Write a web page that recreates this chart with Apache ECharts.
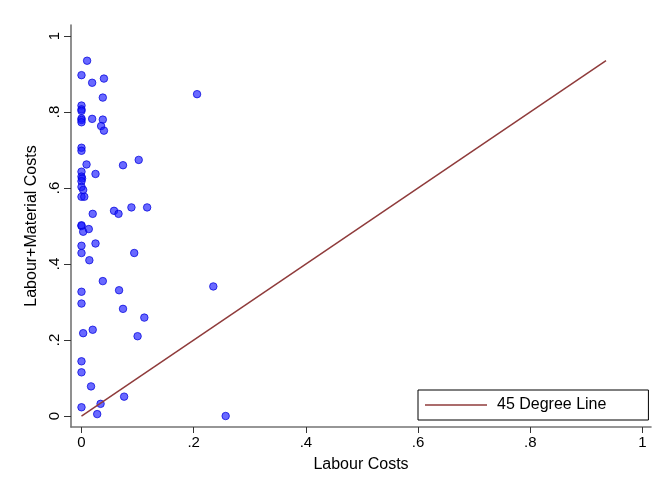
<!DOCTYPE html>
<html><head><meta charset="utf-8">
<script src="https://cdn.jsdelivr.net/npm/echarts@6/dist/echarts.min.js"></script>
<style>html,body{margin:0;padding:0;background:#fff}#c{width:667px;height:489px}</style>
</head><body><div id="c"></div>
<script>
const labourCosts = [0.010,0,0.019,0.040,0.038,0.206,0,0,0,0,0,0,0.019,0.038,0.035,0.040,0,0,0.009,0.074,0.102,0,0.025,0,0.001,0,0,0.003,0,0.005,0.020,0.058,0.066,0.089,0.117,0,0,0.003,0.013,0,0.025,0,0.094,0.014,0.038,0,0.067,0,0.074,0.235,0.112,0.003,0.020,0.100,0,0,0.017,0.076,0.034,0,0.028,0.257];
const labourMaterialCosts = [0.935,0.897,0.877,0.888,0.838,0.847,0.817,0.807,0.803,0.783,0.779,0.773,0.782,0.780,0.763,0.751,0.706,0.698,0.662,0.660,0.674,0.643,0.637,0.630,0.625,0.618,0.603,0.595,0.577,0.577,0.532,0.540,0.532,0.549,0.549,0.500,0.502,0.485,0.492,0.448,0.454,0.429,0.429,0.410,0.355,0.327,0.331,0.296,0.282,0.341,0.259,0.218,0.227,0.210,0.144,0.115,0.078,0.051,0.032,0.023,0.005,0.000];
const lineX = [0, 0.935];
const lineY = [0, 0.935];
const tickValues = [0, 0.2, 0.4, 0.6, 0.8, 1];
const fmt = v => v === 0 ? '0' : (v === 1 ? '1' : String(v).replace(/^0/, ''));
const font = 'Liberation Sans, Arial, sans-serif';
const chart = echarts.init(document.getElementById('c'));
chart.setOption({
  animation: false,
  backgroundColor: '#fff',
  grid: {left: 71, right: 16, top: 25, bottom: 62, containLabel: false},
  legend: {
    data: [{name: '45 Degree Line', icon: 'rect'}],
    left: 418, top: 390,
    orient: 'horizontal',
    itemWidth: 62, itemHeight: 1.5,
    padding: [7, 42, 7, 7],
    borderColor: '#000', borderWidth: 1, borderRadius: 0,
    textStyle: {fontFamily: font, fontSize: 16, color: '#000', padding: [0, 0, 0, 5]}
  },
  xAxis: {
    type: 'value', min: -0.0187, max: 1.0152,
    name: 'Labour Costs', nameLocation: 'middle', nameGap: 30,
    nameTextStyle: {fontFamily: font, fontSize: 16, color: '#000'},
    splitLine: {show: false},
    axisLine: {show: true, onZero: false, lineStyle: {color: '#747474', width: 1.6}},
    axisTick: {show: true, length: 6, customValues: tickValues, lineStyle: {color: '#333'}},
    axisLabel: {customValues: tickValues, formatter: fmt, margin: 8, fontFamily: font, fontSize: 15, color: '#000'}
  },
  yAxis: {
    type: 'value', min: -0.0289, max: 1.029,
    name: 'Labour+Material Costs', nameLocation: 'middle', nameGap: 23, nameRotate: 90,
    nameTextStyle: {fontFamily: font, fontSize: 16, color: '#000'},
    splitLine: {show: false},
    axisLine: {show: true, onZero: false, lineStyle: {color: '#747474', width: 1.6}},
    axisTick: {show: true, length: 7, customValues: tickValues, lineStyle: {color: '#333'}},
    axisLabel: {customValues: tickValues, formatter: fmt, rotate: 90, margin: 9, fontFamily: font, fontSize: 15, color: '#000'}
  },
  series: [
    {
      type: 'scatter', name: 'points',
      data: labourCosts.map((x, i) => [x, labourMaterialCosts[i]]),
      symbolSize: 7.5,
      itemStyle: {color: 'rgba(20,20,255,0.8)', borderColor: 'rgba(0,0,220,0.9)', borderWidth: 1}
    },
    {
      type: 'line', name: '45 Degree Line',
      data: lineX.map((x, i) => [x, lineY[i]]),
      showSymbol: false, symbol: 'none',
      lineStyle: {color: '#8f3b3b', width: 1.5},
      itemStyle: {color: '#8f3b3b'}
    }
  ]
});
</script></body></html>
